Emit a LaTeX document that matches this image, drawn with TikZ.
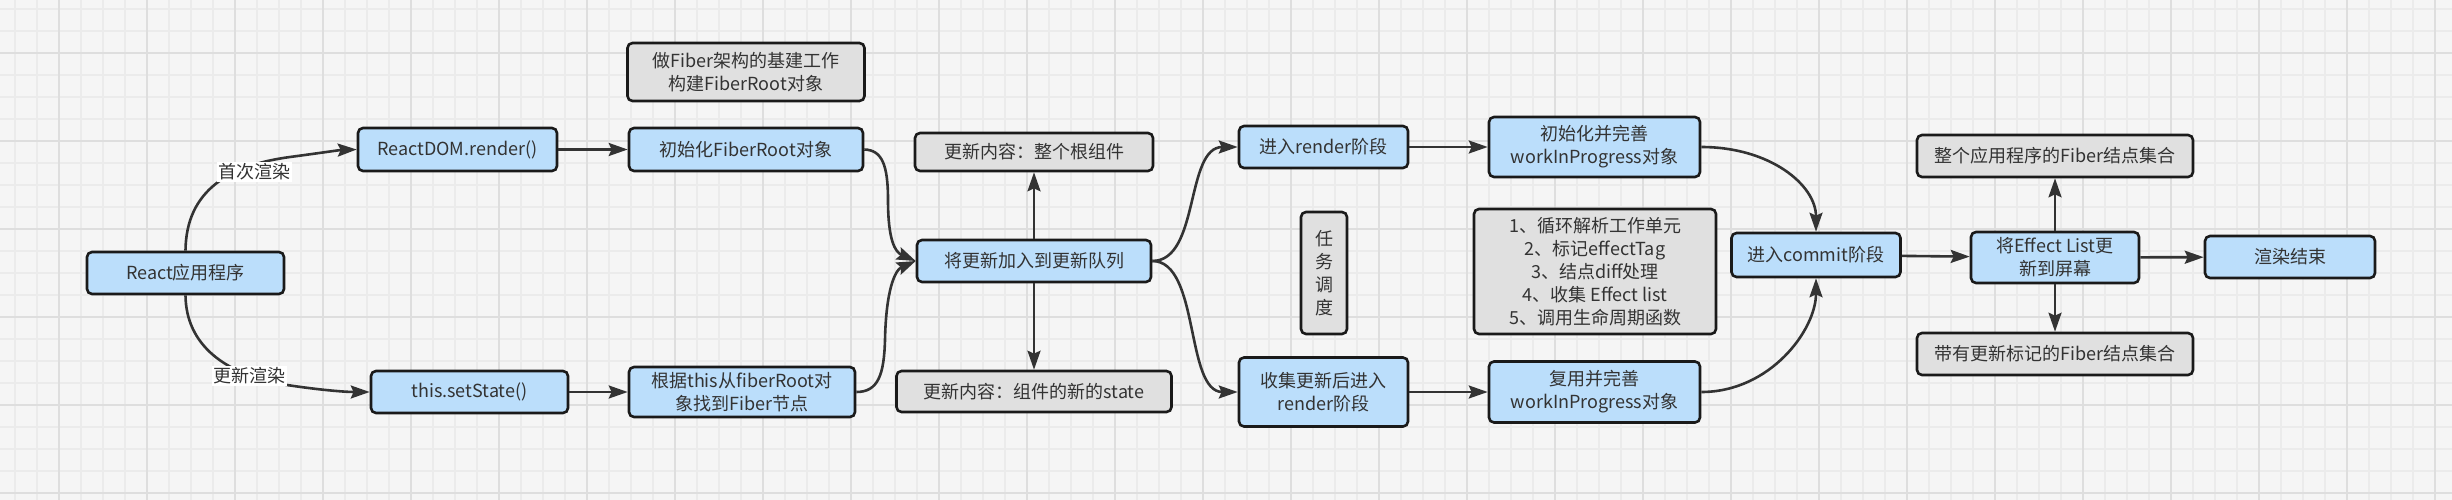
\documentclass[tikz,border=0pt]{standalone}
\usepackage{fontspec}
\setmainfont{Noto Sans CJK SC}
\usetikzlibrary{arrows.meta}
\definecolor{bluefill}{HTML}{BBDEFB}
\definecolor{grayfill}{HTML}{E0E0E0}
\definecolor{txt}{HTML}{333333}
\definecolor{edgec}{HTML}{333333}
\definecolor{bord}{HTML}{1A1A1A}
\definecolor{bg}{HTML}{F5F5F5}
\definecolor{gminor}{HTML}{EBEBEB}
\definecolor{gmajor}{HTML}{DEDEDE}
\begin{document}
\begin{tikzpicture}[x=1pt,y=-1pt,
  box/.style={draw=bord, line width=2.6pt, rounded corners=5pt, inner sep=0pt, align=center, text=txt, font=\fontsize{18}{23}\selectfont},
  bluebox/.style={box, fill=bluefill},
  graybox/.style={box, fill=grayfill},
  conn/.style={draw=edgec, line width=2.6pt, -{Stealth[length=19pt,width=13pt,inset=3pt]}},
  lbl/.style={fill=white, text=txt, inner sep=1.5pt, font=\fontsize{18}{23}\selectfont},
  gridminor/.style={gminor, line width=1.8pt},
  gridmajor/.style={gmajor, line width=2pt}]
\useasboundingbox (0,0) rectangle (2452,500);
\fill[bg] (0,0) rectangle (2452,500);
% grid
\foreach \i in {0,...,111} {\draw[gridminor] ({15.3+22*\i},0) -- ++(0,500);}
\foreach \j in {0,...,22} {\draw[gridminor] (0,{8.7+22*\j}) -- ++(2452,0);}
\foreach \i in {0,...,27} {\draw[gridmajor] ({59.3+88*\i},0) -- ++(0,500);}
\foreach \j in {0,...,5} {\draw[gridmajor] (0,{52.7+88*\j}) -- ++(2452,0);}

% nodes
\node[bluebox, minimum width=197pt, minimum height=42pt] (app) at (185.5,273) {React应用程序};
\node[bluebox, minimum width=199pt, minimum height=43pt] (rdom) at (457.5,149.5) {ReactDOM.render()};
\node[bluebox, minimum width=234pt, minimum height=43pt] (initfr) at (746,149.5) {初始化FiberRoot对象};
\node[graybox, minimum width=237pt, minimum height=58pt] (base) at (746,72) {做Fiber架构的基建工作\\构建FiberRoot对象};
\node[bluebox, minimum width=197pt, minimum height=42pt] (setst) at (469.5,392) {this.setState()};
\node[bluebox, minimum width=226pt, minimum height=50pt] (findf) at (742,392) {根据this从fiberRoot对\\象找到Fiber节点};
\node[graybox, minimum width=238pt, minimum height=38pt] (upd1) at (1034,152) {更新内容：整个根组件};
\node[bluebox, minimum width=234pt, minimum height=42pt] (queue) at (1034,261) {将更新加入到更新队列};
\node[graybox, minimum width=275pt, minimum height=41pt] (upd2) at (1034,391.5) {更新内容：组件的新的state};
\node[bluebox, minimum width=169pt, minimum height=42pt] (render1) at (1323.5,147) {进入render阶段};
\node[bluebox, minimum width=211pt, minimum height=60pt] (wip1) at (1594.5,147) {初始化并完善\\workInProgress对象};
\node[graybox, minimum width=46pt, minimum height=122pt] (sched) at (1324,273) {任\\务\\调\\度};
\node[graybox, minimum width=242pt, minimum height=125pt] (list) at (1595,271.5) {1、循环解析工作单元\\2、标记effectTag\\3、结点diff处理\\4、收集 Effect list\\5、调用生命周期函数};
\node[bluebox, minimum width=169pt, minimum height=69pt] (collect) at (1323.5,392) {收集更新后进入\\render阶段};
\node[bluebox, minimum width=211pt, minimum height=61pt] (wip2) at (1594.5,392) {复用并完善\\workInProgress对象};
\node[bluebox, minimum width=169pt, minimum height=44pt] (commit) at (1816,255) {进入commit阶段};
\node[bluebox, minimum width=168pt, minimum height=51pt] (effect) at (2055,257.5) {将Effect List更\\新到屏幕};
\node[bluebox, minimum width=170pt, minimum height=42pt] (end) at (2290,257) {渲染结束};
\node[graybox, minimum width=276pt, minimum height=42pt] (fib1) at (2055,156) {整个应用程序的Fiber结点集合};
\node[graybox, minimum width=276pt, minimum height=42pt] (fib2) at (2055,354) {带有更新标记的Fiber结点集合};

% connectors
\draw[conn] (app.north) .. controls (186,190) and (230,165) .. (290,157) .. controls (320,153) and (340,150) .. (rdom.west);
\draw[conn] (app.south) .. controls (186,345) and (225,375) .. (287,385) .. controls (320,390) and (345,392) .. (setst.west);
\draw[conn] (rdom) -- (initfr);
\draw[conn] (setst) -- (findf);
\draw[conn] (initfr.east) .. controls (882,150) and (888,165) .. (888,200) .. controls (888,240) and (895,252) .. (queue.west);
\draw[conn] (findf.east) .. controls (878,392) and (884,375) .. (885,340) .. controls (886,290) and (895,270) .. (queue.west);
\draw[conn] (queue) -- (upd1);
\draw[conn] (queue) -- (upd2);
\draw[conn] (queue.east) .. controls (1200,261) and (1185,147) .. (render1.west);
\draw[conn] (queue.east) .. controls (1200,261) and (1185,392) .. (collect.west);
\draw[conn] (render1) -- (wip1);
\draw[conn] (collect) -- (wip2);
\draw[conn] (wip1.east) .. controls (1770,147) and (1816,185) .. (commit.north);
\draw[conn] (wip2.east) .. controls (1770,392) and (1816,330) .. (commit.south);
\draw[conn] (commit) -- (effect);
\draw[conn] (effect) -- (end);
\draw[conn] (effect) -- (fib1);
\draw[conn] (effect) -- (fib2);

% edge labels
\node[lbl] (l1) at (254.5,172) {首次渲染};
\node[lbl] (l2) at (249.5,376) {更新渲染};
\end{tikzpicture}
\end{document}
